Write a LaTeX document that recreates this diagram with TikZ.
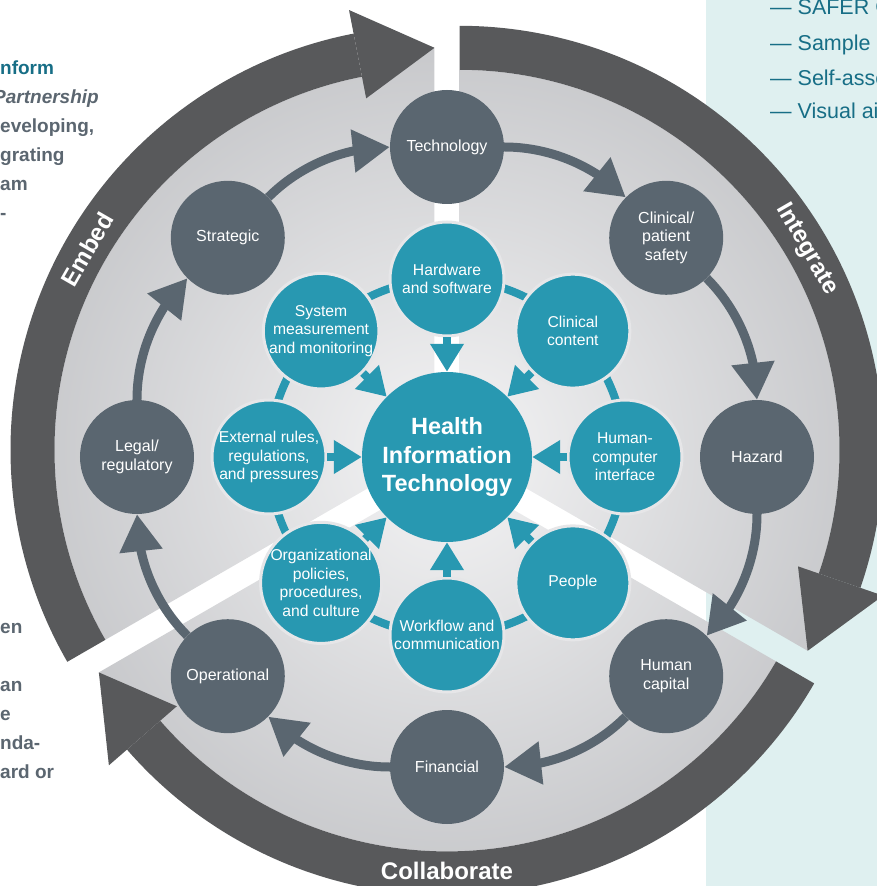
\documentclass[tikz,border=0pt]{standalone}
\usepackage{fontspec}
\setmainfont{Liberation Sans}
\usetikzlibrary{arrows.meta,bending}
\definecolor{slate}{HTML}{5A6670}
\definecolor{petrol}{HTML}{2898B1}
\definecolor{band}{HTML}{58595B}
\definecolor{diskin}{HTML}{F3F3F4}
\definecolor{diskout}{HTML}{C4C5C8}
\definecolor{ringgap}{HTML}{E6E6E8}
\definecolor{panel}{HTML}{DFF0F0}
\definecolor{inktext}{HTML}{176E86}
\definecolor{sidetext}{HTML}{5B6670}
\begin{document}
\begin{tikzpicture}[x=1pt, y=1pt,
  stage/.style={circle, fill=slate, text=white, minimum size=114pt, inner sep=0pt, align=center, font=\fontsize{16}{18.5}\selectfont},
  factor/.style={circle, fill=petrol, draw=ringgap, line width=3pt, text=white, minimum size=114pt, inner sep=0pt, align=center, font=\fontsize{15.7}{18.5}\selectfont},
  hub/.style={circle, fill=petrol, text=white, minimum size=170pt, inner sep=0pt, align=center, font=\bfseries\fontsize{23.5}{28.5}\selectfont},
  stagearrow/.style={slate, line width=9pt, -{Triangle[width=41pt,length=37pt]}, bend left=22.5, looseness=0.88},
  factorarrow/.style={petrol, line width=8pt, -{Triangle[width=32pt,length=28pt]}},
  phaselabel/.style={text=white, inner sep=0pt, font=\bfseries\fontsize{24}{24}\selectfont},
  sidenote/.style={anchor=base west, inner sep=0pt, text=sidetext, font=\bfseries\fontsize{19}{19}\selectfont},
  listnote/.style={anchor=base west, inner sep=0pt, text=inktext, font=\fontsize{21.5}{21.5}\selectfont}]
\useasboundingbox (-447,-429) rectangle (430,457);
\clip (-447,-429) rectangle (430,457);
% side panel and cut-off text
\fill[panel] (259,-429) rectangle (430,457);
\node[listnote] (T_1_0) at (323,442) {— SAFER G};
\node[listnote] (T_1_1) at (323,406) {— Sample};
\node[listnote] (T_1_2) at (323,371) {— Self-asse};
\node[listnote] (T_1_3) at (323,338) {— Visual ai};
\node[sidenote, text=inktext] (T_0_0) at (-447,382) {nform};
\node[sidenote, font=\bfseries\itshape\fontsize{19}{19}\selectfont] (T_0_1) at (-454,353) {Partnership};
\node[sidenote] (T_0_2) at (-447,324) {eveloping,};
\node[sidenote] (T_0_3) at (-447,295) {grating};
\node[sidenote] (T_0_4) at (-447,266) {am};
\node[sidenote] (T_0_5) at (-447,237) {-};
\node[sidenote] (T_0_6) at (-447,-176) {en};
\node[sidenote] (T_0_7) at (-447,-234) {an};
\node[sidenote] (T_0_8) at (-447,-263) {e};
\node[sidenote] (T_0_9) at (-447,-292) {nda-};
\node[sidenote] (T_0_10) at (-447,-321) {ard or};
% Embed
\begin{scope}[shift={(-12.5,7.2)}]
\begin{scope}
\clip (0,0) -- (210:380) arc[start angle=210, end angle=101, radius=380] -- (90:402) -- cycle;
\shade[inner color=diskin, outer color=diskout] (0,0) circle[radius=440];
\end{scope}
\fill[band] (210:380) arc[start angle=210, end angle=101, radius=380] -- (101:424) arc[start angle=101, end angle=210, radius=424] -- cycle;
\fill[band] (101:358) -- (90:402) -- (101:448) -- cycle;
\node[phaselabel, rotate=60] (L_0) at (150:401) {Embed};
\end{scope}
% Integrate
\begin{scope}[shift={(12.5,7.2)}]
\begin{scope}
\clip (0,0) -- (90:380) arc[start angle=90, end angle=-19, radius=380] -- (-30:402) -- cycle;
\shade[inner color=diskin, outer color=diskout] (0,0) circle[radius=440];
\end{scope}
\fill[band] (90:380) arc[start angle=90, end angle=-19, radius=380] -- (-19:424) arc[start angle=-19, end angle=90, radius=424] -- cycle;
\fill[band] (-19:358) -- (-30:402) -- (-19:448) -- cycle;
\node[phaselabel, rotate=-60] (L_1) at (30:401) {Integrate};
\end{scope}
% Collaborate
\begin{scope}[shift={(0,-14.4)}]
\begin{scope}
\clip (0,0) -- (-30:380) arc[start angle=-30, end angle=-139, radius=380] -- (-150:402) -- cycle;
\shade[inner color=diskin, outer color=diskout] (0,0) circle[radius=440];
\end{scope}
\fill[band] (-30:380) arc[start angle=-30, end angle=-139, radius=380] -- (-139:424) arc[start angle=-139, end angle=-30, radius=424] -- cycle;
\fill[band] (-139:358) -- (-150:402) -- (-139:448) -- cycle;
\node[phaselabel] (L_2) at (270:400) {Collaborate};
\end{scope}
% inner ring
\draw[petrol, line width=8pt] (0,0) circle[radius=178];
\node[hub] (R_0_0) at (0,0) {Health\\Information\\Technology};
\node[factor] (R_1_0) at (90:178) {Hardware\\and software};
\node[factor] (R_1_1) at (45:178) {Clinical\\content};
\node[factor] (R_1_2) at (0:178) {Human-\\computer\\interface};
\node[factor] (R_1_3) at (-45:178) {People};
\node[factor] (R_1_4) at (-90:178) {Workflow and\\communication};
\node[factor] (R_1_5) at (-135:178) {Organizational\\policies,\\procedures,\\and culture};
\node[factor] (R_1_6) at (180:178) {External rules,\\regulations,\\and pressures};
\node[factor] (R_1_7) at (135:178) {System\\measurement\\and monitoring};
\draw[factorarrow] (R_1_0) -- (R_0_0);
\draw[factorarrow] (R_1_1) -- (R_0_0);
\draw[factorarrow] (R_1_2) -- (R_0_0);
\draw[factorarrow] (R_1_3) -- (R_0_0);
\draw[factorarrow] (R_1_4) -- (R_0_0);
\draw[factorarrow] (R_1_5) -- (R_0_0);
\draw[factorarrow] (R_1_6) -- (R_0_0);
\draw[factorarrow] (R_1_7) -- (R_0_0);
% outer ring
\node[stage] (R_2_0) at (90:310) {Technology};
\node[stage] (R_2_1) at (45:310) {Clinical/\\patient\\safety};
\node[stage] (R_2_2) at (0:310) {Hazard};
\node[stage] (R_2_3) at (-45:310) {Human\\capital};
\node[stage] (R_2_4) at (-90:310) {Financial};
\node[stage] (R_2_5) at (-135:310) {Operational};
\node[stage] (R_2_6) at (180:310) {Legal/\\regulatory};
\node[stage] (R_2_7) at (135:310) {Strategic};
\draw[stagearrow] (R_2_0) to (R_2_1);
\draw[stagearrow] (R_2_1) to (R_2_2);
\draw[stagearrow] (R_2_2) to (R_2_3);
\draw[stagearrow] (R_2_3) to (R_2_4);
\draw[stagearrow] (R_2_4) to (R_2_5);
\draw[stagearrow] (R_2_5) to (R_2_6);
\draw[stagearrow] (R_2_6) to (R_2_7);
\draw[stagearrow] (R_2_7) to (R_2_0);
\end{tikzpicture}
\end{document}
